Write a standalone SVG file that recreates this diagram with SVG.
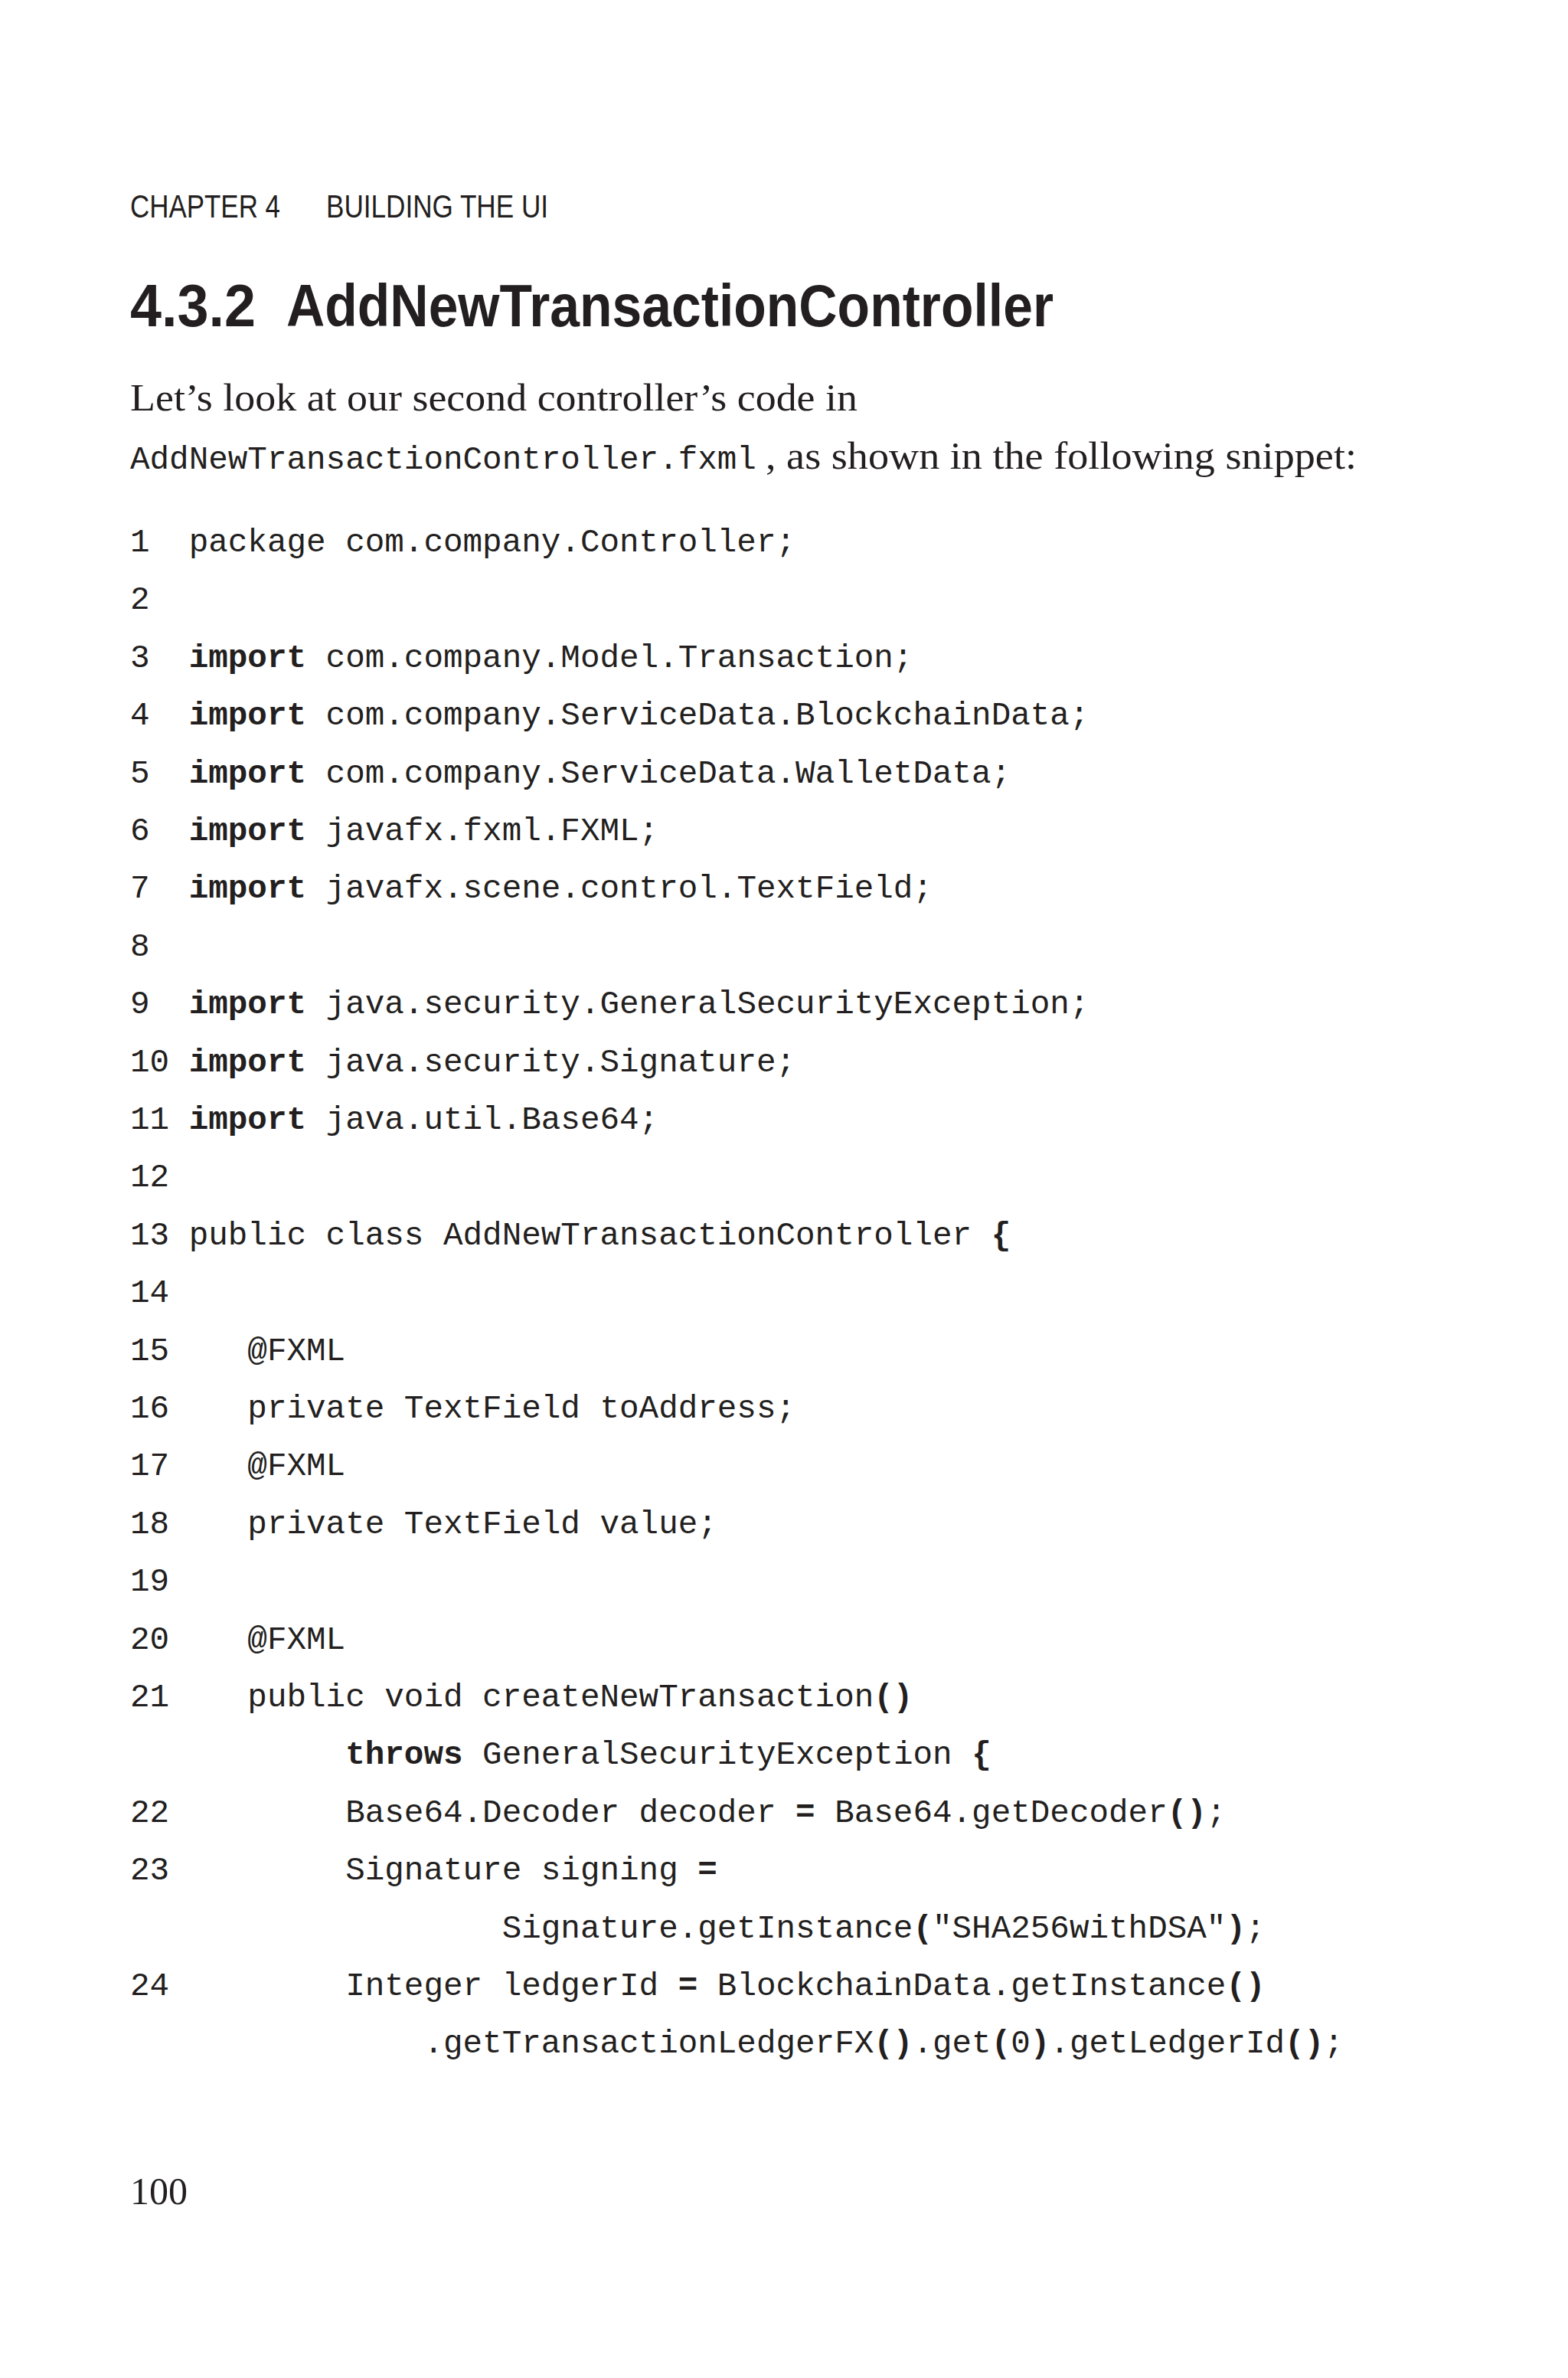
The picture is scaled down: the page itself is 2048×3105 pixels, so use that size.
<svg xmlns="http://www.w3.org/2000/svg" width="2048" height="3105" viewBox="0 0 2048 3105">
<style>
.h{font-family:"Liberation Sans",Arial,sans-serif;fill:#231f20}
.s{font-family:"Liberation Serif","Times New Roman",serif;fill:#231f20;font-size:50px}
.m{font-family:"Liberation Mono","Courier New",monospace;fill:#231f20;font-size:42.6px;white-space:pre}
.b{font-weight:bold}
</style>
<rect width="2048" height="3105" fill="#fff"/>
<text class="h" x="170" y="284" font-size="42" textLength="196" lengthAdjust="spacingAndGlyphs">CHAPTER 4</text>
<text class="h" x="426" y="284" font-size="42" textLength="290" lengthAdjust="spacingAndGlyphs">BUILDING THE UI</text>
<text class="h b" x="170" y="426" font-size="78" textLength="164" lengthAdjust="spacingAndGlyphs">4.3.2</text>
<text class="h b" x="374" y="426" font-size="78" textLength="1002" lengthAdjust="spacingAndGlyphs">AddNewTransactionController</text>
<text class="s" x="170" y="536" textLength="950" lengthAdjust="spacingAndGlyphs">Let’s look at our second controller’s code in</text>
<text class="m" x="170" y="612" font-size="41">AddNewTransactionController.fxml</text>
<text class="s" x="1000" y="612" textLength="772" lengthAdjust="spacingAndGlyphs">, as shown in the following snippet:</text>
<g class="m">
<text x="170" y="720" xml:space="preserve">1  package com.company.Controller;</text>
<text x="170" y="795" xml:space="preserve">2</text>
<text x="170" y="871" xml:space="preserve">3  <tspan class="b">import</tspan> com.company.Model.Transaction;</text>
<text x="170" y="946" xml:space="preserve">4  <tspan class="b">import</tspan> com.company.ServiceData.BlockchainData;</text>
<text x="170" y="1022" xml:space="preserve">5  <tspan class="b">import</tspan> com.company.ServiceData.WalletData;</text>
<text x="170" y="1097" xml:space="preserve">6  <tspan class="b">import</tspan> javafx.fxml.FXML;</text>
<text x="170" y="1172" xml:space="preserve">7  <tspan class="b">import</tspan> javafx.scene.control.TextField;</text>
<text x="170" y="1248" xml:space="preserve">8</text>
<text x="170" y="1323" xml:space="preserve">9  <tspan class="b">import</tspan> java.security.GeneralSecurityException;</text>
<text x="170" y="1399" xml:space="preserve">10 <tspan class="b">import</tspan> java.security.Signature;</text>
<text x="170" y="1474" xml:space="preserve">11 <tspan class="b">import</tspan> java.util.Base64;</text>
<text x="170" y="1549" xml:space="preserve">12</text>
<text x="170" y="1625" xml:space="preserve">13 public class AddNewTransactionController <tspan class="b">{</tspan></text>
<text x="170" y="1700" xml:space="preserve">14</text>
<text x="170" y="1776" xml:space="preserve">15    @FXML</text>
<text x="170" y="1851" xml:space="preserve">16    private TextField toAddress;</text>
<text x="170" y="1926" xml:space="preserve">17    @FXML</text>
<text x="170" y="2002" xml:space="preserve">18    private TextField value;</text>
<text x="170" y="2077" xml:space="preserve">19</text>
<text x="170" y="2153" xml:space="preserve">20    @FXML</text>
<text x="170" y="2228" xml:space="preserve">21    public void createNewTransaction<tspan class="b">()</tspan></text>
<text x="170" y="2303" xml:space="preserve">           <tspan class="b">throws</tspan> GeneralSecurityException <tspan class="b">{</tspan></text>
<text x="170" y="2379" xml:space="preserve">22         Base64.Decoder decoder <tspan class="b">=</tspan> Base64.getDecoder<tspan class="b">()</tspan>;</text>
<text x="170" y="2454" xml:space="preserve">23         Signature signing <tspan class="b">=</tspan></text>
<text x="170" y="2530" xml:space="preserve">                   Signature.getInstance<tspan class="b">(</tspan>"SHA256withDSA"<tspan class="b">)</tspan>;</text>
<text x="170" y="2605" xml:space="preserve">24         Integer ledgerId <tspan class="b">=</tspan> BlockchainData.getInstance<tspan class="b">()</tspan></text>
<text x="170" y="2680" xml:space="preserve">               .getTransactionLedgerFX<tspan class="b">()</tspan>.get<tspan class="b">(</tspan>0<tspan class="b">)</tspan>.getLedgerId<tspan class="b">()</tspan>;</text>
</g>
<text class="s" x="170" y="2878" font-size="48">100</text>
</svg>
